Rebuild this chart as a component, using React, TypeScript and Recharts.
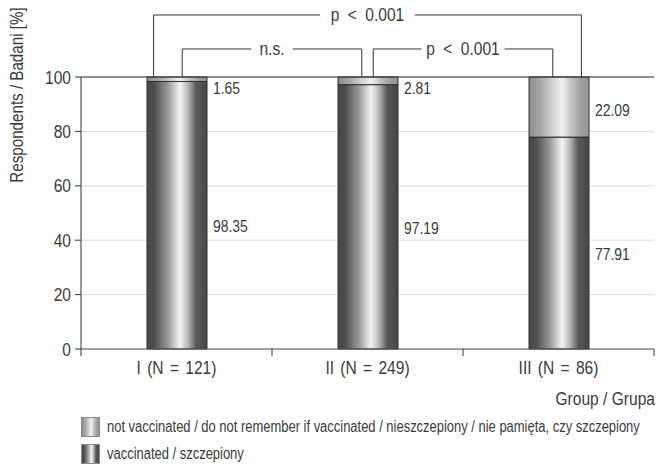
import { BarChart, Bar, XAxis, YAxis, CartesianGrid, ReferenceLine, ReferenceDot, LabelList, Legend } from "recharts";

const groups = ["I (N = 121)", "II (N = 249)", "III (N = 86)"];
const vaccinated = [98.35, 97.19, 77.91];
const notVaccinated = [1.65, 2.81, 22.09];
const yTicks = [0, 20, 40, 60, 80, 100];

// comparisons between groups: [from, to], label, level above 100 %
const comparisons: Array<{ pair: [number, number]; label: string; level: number; outer: boolean }> = [
    { pair: [0, 1], label: "n.s.", level: 110.3, outer: false },
    { pair: [1, 2], label: "p < 0.001", level: 110.3, outer: false },
    { pair: [0, 2], label: "p < 0.001", level: 122.8, outer: true },
];

const FONT = "'Liberation Sans', Arial, sans-serif";
const TEXT = "#3a3a3a";
const NARROW = 0.82; // the original uses a condensed face

const data = groups.map((g, i) => ({
    group: g,
    pos: i + 0.5,
    vaccinated: vaccinated[i],
    notVaccinated: notVaccinated[i],
}));

const darkGrad = "linear-gradient(to right, #48484a 0%, #4e4e50 12%, #9a9a9c 35%, #f4f4f4 55%, #b8b8ba 68%, #58585a 82%, #48484a 100%)";
const lightGrad = "linear-gradient(to right, #8c8c8e 0%, #a8a8aa 20%, #d4d4d6 40%, #f2f2f2 55%, #c4c4c6 70%, #9c9c9e 88%, #98989a 100%)";

const NText = ({ x, y, anchor = "start", size = 18, rotate = 0, spacing = 0, children }: any) => (
    <text
        transform={`translate(${x},${y}) rotate(${rotate}) scale(${NARROW},1)`}
        x={0}
        y={0}
        textAnchor={anchor}
        fontSize={size}
        fill={TEXT}
        fontFamily={FONT}
        style={spacing ? { wordSpacing: spacing } : undefined}
    >
        {children}
    </text>
);

const CategoryTick = (props: any) => {
    const { x, y, payload } = props;
    const off = payload?.offset ?? 95.5;
    const last = payload?.index === groups.length - 1;
    return (
        <g>
            <line x1={x - off} x2={x - off} y1={y} y2={y + 7} stroke="#333" />
            {last && <line x1={x + off} x2={x + off} y1={y} y2={y + 7} stroke="#333" />}
            <NText x={x} y={y + 25} anchor="middle" size={19} spacing={2.4}>
                {payload.value}
            </NText>
        </g>
    );
};

const ValueTick = (props: any) => {
    const { x, y, payload } = props;
    return (
        <NText x={x} y={y + 6.5} anchor="end" size={19}>
            {payload.value}
        </NText>
    );
};

const makeValueLabel = (small: boolean) => (props: any) => {
    const { x, y, width, height, value } = props;
    const v = Array.isArray(value) ? value[1] - value[0] : Number(value);
    const h = Math.abs(height);
    const top = Math.min(y, y + height);
    const cy = small ? Math.max(top + h / 2 + 3, top + 11) : top + h / 2 + 11;
    return (
        <NText x={x + width + 6} y={cy + 6} size={17}>
            {v.toFixed(2)}
        </NText>
    );
};

const BracketLabel = (props: any) => {
    const vb = props.viewBox || {};
    const cx = (vb.x ?? 0) + (vb.width ?? 0) / 2;
    const cy = (vb.y ?? 0) + (vb.height ?? 0) / 2;
    return (
        <NText x={cx} y={cy + 6.5} anchor="middle" size={19} spacing={5}>
            {props.value}
        </NText>
    );
};

const GroupLabel = (props: any) => {
    const vb = props.viewBox || { x: 81, y: 349, width: 573 };
    return (
        <NText x={vb.x + vb.width + 1} y={vb.y + 56} anchor="end" size={19}>
            Group / Grupa
        </NText>
    );
};

const YTitle = (props: any) => {
    const vb = props.viewBox || { x: 0, y: 77 };
    return (
        <NText x={vb.x + 23} y={vb.y + 18} anchor="middle" size={18.5} rotate={-90}>
            Respondents / Badani [%]
        </NText>
    );
};

const legendOrder = ["notVaccinated", "vaccinated"];

const LegendContent = (props: any) => {
    const items = [...(props.payload || [])].sort(
        (a: any, b: any) => legendOrder.indexOf(a.dataKey) - legendOrder.indexOf(b.dataKey)
    );
    return (
        <div style={{ fontFamily: FONT, fontSize: 15.8, color: TEXT, whiteSpace: "nowrap", width: 575, overflow: "visible" }}>
            {items.map((it: any) => (
                <div key={it.dataKey} style={{ display: "flex", alignItems: "center", height: 27 }}>
                    <span
                        style={{
                            width: 17,
                            height: 18,
                            marginRight: 7,
                            border: "1px solid #888",
                            background: it.dataKey === "vaccinated" ? darkGrad : lightGrad,
                            display: "inline-block",
                            flex: "none",
                        }}
                    />
                    <span style={{ display: "inline-block", flex: "none", transform: `scaleX(${NARROW})`, transformOrigin: "left center" }}>
                        {it.value}
                    </span>
                </div>
            ))}
        </div>
    );
};

export default function App() {
    const brackets = comparisons.map((c) => {
        const a = c.pair[0] + 0.5;
        const b = c.pair[1] + 0.5;
        const leg = c.outer ? 0.12 : 0.03;
        const x1 = c.outer ? a - leg : a + leg;
        const x2 = c.outer ? b + leg : b - leg;
        const mid = (a + b) / 2;
        const gap = c.label.length * 0.022 + 0.02 + (c.outer ? 0.03 : 0);
        return { ...c, x1, x2, mid, gap };
    });

    return (
        <div>
            <style>{"body{margin:0}"}</style>
            <BarChart width={656} height={465} data={data} margin={{ top: 77, right: 2, left: 0, bottom: 0 }}>
                <defs>
                    <linearGradient id="gradDark" x1="0" y1="0" x2="1" y2="0">
                        <stop offset="0%" stopColor="#48484a" />
                        <stop offset="12%" stopColor="#4e4e50" />
                        <stop offset="35%" stopColor="#9a9a9c" />
                        <stop offset="55%" stopColor="#f4f4f4" />
                        <stop offset="68%" stopColor="#b8b8ba" />
                        <stop offset="82%" stopColor="#58585a" />
                        <stop offset="100%" stopColor="#48484a" />
                    </linearGradient>
                    <linearGradient id="gradLight" x1="0" y1="0" x2="1" y2="0">
                        <stop offset="0%" stopColor="#8c8c8e" />
                        <stop offset="20%" stopColor="#a8a8aa" />
                        <stop offset="40%" stopColor="#d4d4d6" />
                        <stop offset="55%" stopColor="#f2f2f2" />
                        <stop offset="70%" stopColor="#c4c4c6" />
                        <stop offset="88%" stopColor="#9c9c9e" />
                        <stop offset="100%" stopColor="#98989a" />
                    </linearGradient>
                </defs>
                <CartesianGrid vertical={false} stroke="#dcdcdc" />
                <XAxis
                    dataKey="group"
                    height={116}
                    tickLine={false}
                    tickSize={0}
                    tickMargin={0}
                    axisLine={{ stroke: "#555" }}
                    tick={<CategoryTick />}
                    interval={0}
                    label={<GroupLabel />}
                />
                <XAxis xAxisId="n" dataKey="pos" type="number" domain={[0, 3]} hide allowDataOverflow />
                <YAxis
                    width={81}
                    domain={[0, 100]}
                    ticks={yTicks}
                    tickSize={6}
                    tickMargin={4}
                    axisLine={{ stroke: "#333" }}
                    tickLine={{ stroke: "#333" }}
                    tick={<ValueTick />}
                    label={<YTitle />}
                />
                <ReferenceLine y={100} stroke="#333" />
                <Bar dataKey="vaccinated" name="vaccinated / szczepiony" stackId="a" barSize={60} fill="url(#gradDark)" stroke="#2e2e2e" isAnimationActive={false}>
                    <LabelList dataKey="vaccinated" content={makeValueLabel(false)} />
                </Bar>
                <Bar dataKey="notVaccinated" name="not vaccinated / do not remember if vaccinated / nieszczepiony / nie pamięta, czy szczepiony" stackId="a" barSize={60} fill="url(#gradLight)" stroke="#2e2e2e" isAnimationActive={false}>
                    <LabelList dataKey="notVaccinated" content={makeValueLabel(true)} />
                </Bar>
                {brackets.map((b, i) => (
                    <ReferenceLine key={`l1a-${i}`} xAxisId="n" ifOverflow="visible" stroke="#333"
                        segment={[{ x: b.x1, y: 100 }, { x: b.x1, y: b.level }]} />
                ))}
                {brackets.map((b, i) => (
                    <ReferenceLine key={`l1b-${i}`} xAxisId="n" ifOverflow="visible" stroke="#333"
                        segment={[{ x: b.x1, y: b.level }, { x: b.mid - b.gap, y: b.level }]} />
                ))}
                {brackets.map((b, i) => (
                    <ReferenceLine key={`l2a-${i}`} xAxisId="n" ifOverflow="visible" stroke="#333"
                        segment={[{ x: b.mid + b.gap, y: b.level }, { x: b.x2, y: b.level }]} />
                ))}
                {brackets.map((b, i) => (
                    <ReferenceLine key={`l2b-${i}`} xAxisId="n" ifOverflow="visible" stroke="#333"
                        segment={[{ x: b.x2, y: b.level }, { x: b.x2, y: 100 }]} />
                ))}
                {brackets.map((b, i) => (
                    <ReferenceDot key={`t-${i}`} xAxisId="n" x={b.mid} y={b.level} r={0} fill="none" stroke="none" ifOverflow="visible"
                        label={<BracketLabel value={b.label} />} />
                ))}
                <Legend
                    layout="vertical"
                    align="center"
                    verticalAlign="middle"
                    content={<LegendContent />}
                    wrapperStyle={{ left: 81, top: 413, bottom: "auto", width: "auto" }}
                />
            </BarChart>
        </div>
    );
}
